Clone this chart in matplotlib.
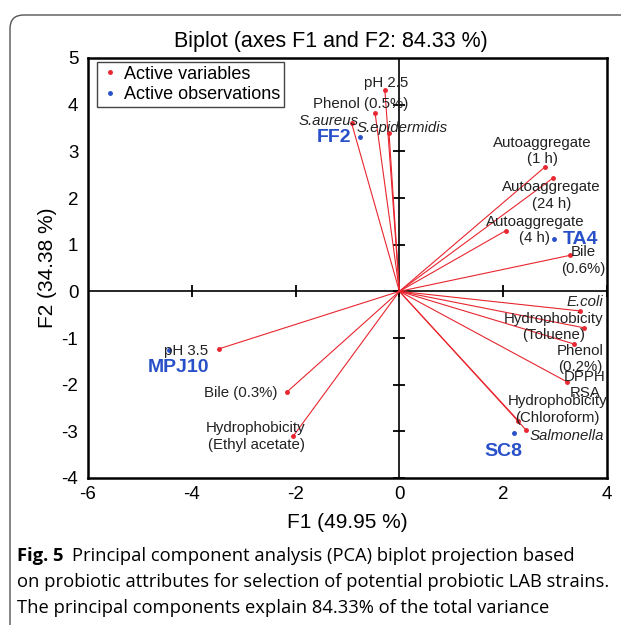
#PCA biplot of probiotic attributes

from matplotlib import pyplot as plt
from matplotlib.patches import FancyBboxPatch
import numpy as np

# Active variables (loadings)

var_names = ['pH 2.5', 'Phenol (0.5%)', 'S.aureus', 'S.epidermidis',
             'Autoaggregate\n(1 h)', 'Autoaggregate\n(24 h)', 'Autoaggregate\n(4 h)',
             'Bile\n(0.6%)', 'E.coli', 'Hydrophobicity\n(Toluene)', 'Phenol\n(0.2%)',
             'DPPH\nRSA', 'Hydrophobicity\n(Chloroform)', 'Salmonella',
             'pH 3.5', 'Bile (0.3%)', 'Hydrophobicity\n(Ethyl acetate)']
var_f1 = [-0.28, -0.47, -0.92, -0.20, 2.81, 2.95, 2.05, 3.28, 3.48, 3.55, 3.37,
          3.23, 2.29, 2.44, -3.47, -2.16, -2.05]
var_f2 = [4.31, 3.83, 3.60, 3.40, 2.67, 2.42, 1.30, 0.77, -0.42, -0.78, -1.13,
          -1.94, -2.77, -2.97, -1.23, -2.15, -3.11]
bacteria = ['S.aureus', 'S.epidermidis', 'E.coli', 'Salmonella']

# Active observations (strains)

obs_names = ['FF2', 'TA4', 'SC8', 'MPJ10']
obs_f1 = [-0.75, 2.98, 2.21, -4.44]
obs_f2 = [3.31, 1.13, -3.03, -1.26]

xticks = [-6, -4, -2, 0, 2, 4]
yticks = [-4, -3, -2, -1, 0, 1, 2, 3, 4, 5]

# label offsets in pixels (dx, dy)
var_offsets = [(1, 7), (-14, 9), (-23, 2), (13, 5), (-3, 16), (-1, -17), (29, 1),
               (14, -5), (5, 9), (-30, 1), (6, -15), (18, -3), (39, 11), (41, -6),
               (-33, -2), (-47, -1), (-37, 0)]
obs_offsets = [(-26, -1), (26, -1), (-11, -19), (10, -17)]

red = '#e8262f'
blue = '#2850c8'
plt.rcParams['font.family'] = ['Liberation Sans', 'DejaVu Sans']
plt.rcParams['axes.unicode_minus'] = False

fig = plt.figure(figsize=(6.21, 6.25), dpi=100)
W, H = 621, 625
ax = fig.add_axes([88 / W, 1 - 478 / H, (607 - 88) / W, (478 - 58) / H])

ax.set_xlim(-6, 4)
ax.set_ylim(-4, 5)
ax.set_xticks(xticks)
ax.set_yticks(yticks)
ax.tick_params(length=0, labelsize=13.5)
ax.tick_params(axis='x', pad=6)
ax.tick_params(axis='y', pad=7)
for s in ax.spines.values():
    s.set_linewidth(1.8)

# zero lines with their own tick marks
ax.axhline(0, color='black', lw=1.2, zorder=1)
ax.axvline(0, color='black', lw=1.2, zorder=1)
ax.plot(xticks, np.zeros(len(xticks)), ls='none', marker='|', color='black', ms=9, mew=1.3, zorder=1)
ax.plot(np.zeros(len(yticks)), yticks, ls='none', marker='_', color='black', ms=9, mew=1.3, zorder=1)

# variable vectors
for x, y in zip(var_f1, var_f2):
    ax.plot([0, x], [0, y], color=red, lw=0.8, zorder=2)
ax.plot(var_f1, var_f2, ls='none', marker='o', ms=2.5, color=red, zorder=3, label='Active variables')
ax.plot(obs_f1, obs_f2, ls='none', marker='o', ms=2.5, color=blue, zorder=3, label='Active observations')

for name, x, y, off in zip(var_names, var_f1, var_f2, var_offsets):
    style = 'italic' if name in bacteria else 'normal'
    ax.annotate(name, xy=(x, y), xytext=off, textcoords='offset pixels',
                ha='center', va='center', multialignment='center',
                fontsize=10.8, style=style, color='#222222', zorder=4)

for name, x, y, off in zip(obs_names, obs_f1, obs_f2, obs_offsets):
    ax.annotate(name, xy=(x, y), xytext=off, textcoords='offset pixels',
                ha='center', va='center', fontsize=14, fontweight='bold', color=blue, zorder=4)

leg = ax.legend(loc='upper left', bbox_to_anchor=(9 / 519, 1 - 4 / 420), borderaxespad=0,
                fontsize=13, handlelength=1.0, handletextpad=0.3, labelspacing=0.2,
                borderpad=0.2, fancybox=False, framealpha=1, markerscale=1)
leg.get_frame().set_edgecolor('#444444')
leg.get_frame().set_linewidth(1.0)

ax.set_title('Biplot (axes F1 and F2: 84.33 %)', fontsize=15.5, x=(331 - 88) / 519, pad=8)
ax.set_xlabel('F1 (49.95 %)', fontsize=15, labelpad=7)
ax.set_ylabel('F2 (34.38 %)', fontsize=15, labelpad=3)

# rounded frame around the figure panel (runs off the right and bottom edges)
frame = FancyBboxPatch((10 / W, -0.1), 1.2, 1.1 - 15 / H,
                       boxstyle='round,pad=0,rounding_size=0.022',
                       transform=fig.transFigure, fill=False, edgecolor='#555555', lw=1.0)
fig.patches.append(frame)

# caption
cap_font = ['Open Sans', 'DejaVu Sans']
cap_size = 13.25
t1 = fig.text(17 / W, 1 - 561 / H, 'Fig. 5', fontsize=cap_size, fontweight='bold', family=cap_font)
ax.annotate('Principal component analysis (PCA) biplot projection based', xy=(1, 0), xycoords=t1,
            xytext=(8, 0), textcoords='offset pixels', fontsize=cap_size, family=cap_font,
            va='bottom', ha='left', annotation_clip=False)
fig.text(17 / W, 1 - 587 / H, 'on probiotic attributes for selection of potential probiotic LAB strains.',
         fontsize=cap_size, family=cap_font)
fig.text(17 / W, 1 - 613 / H, 'The principal components explain 84.33% of the total variance',
         fontsize=cap_size, family=cap_font)

fig.savefig('out.png', dpi=100)
